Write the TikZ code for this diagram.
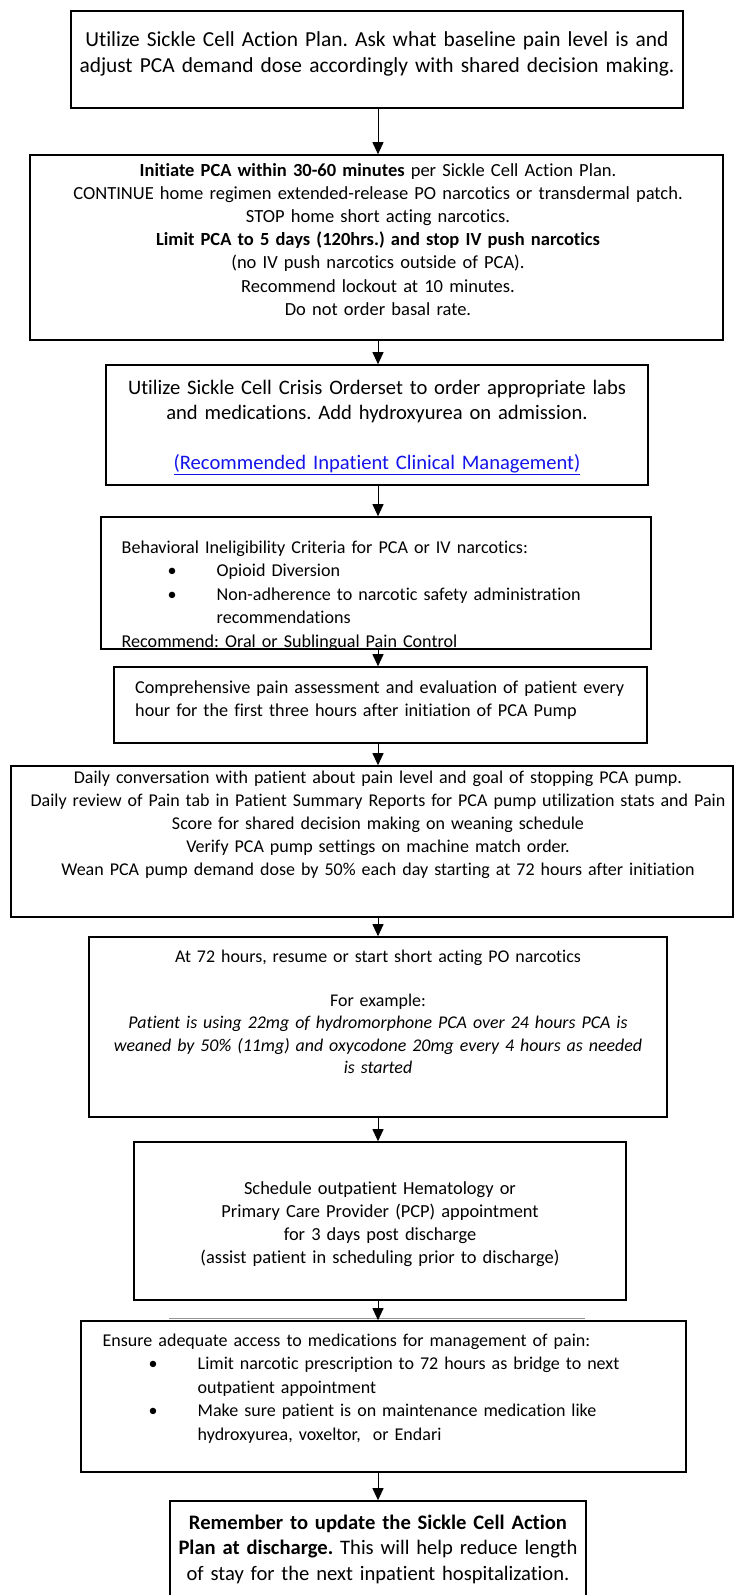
\documentclass[tikz,border=0pt]{standalone}
\usepackage{fontspec}
\setmainfont{Carlito}[Ligatures=NoCommon]
\usetikzlibrary{arrows.meta}
\definecolor{linkblue}{RGB}{20,20,235}
\definecolor{seamgray}{RGB}{150,150,150}
\newcommand\fs[2]{\fontsize{#1pt}{#2pt}\selectfont}
\newcommand\bulA{\makebox[95pt][l]{\hspace{46pt}\textbullet}}
\frenchspacing
\begin{document}
\begin{tikzpicture}[x=1pt,y=-1pt,
  box/.style={draw=black,line width=1.6pt,inner sep=0pt},
  flow/.style={line width=0.9pt,-{Triangle[width=11pt,length=12pt]}},
  ctext/.style={inner sep=0pt,anchor=base,align=center,text width=#1pt},
  ltext/.style={inner sep=0pt,anchor=base west,align=left,text width=#1pt}]
\clip (0,0) rectangle (735,1595);
\fill[white] (0,0) rectangle (735,1595);

% boxes
\node[box,minimum width=612pt,minimum height=97pt]  (b1)  at (377,59.5) {};
\node[box,minimum width=693pt,minimum height=185pt] (b2)  at (376.5,247.5) {};
\node[box,minimum width=542pt,minimum height=120pt] (b3)  at (377,425) {};
\node[box,minimum width=550pt,minimum height=132pt] (b4)  at (376,583) {};
\node[box,minimum width=533pt,minimum height=76pt]  (b5)  at (380.5,705) {};
\node[box,minimum width=722pt,minimum height=151pt] (b6)  at (372,841.5) {};
\node[box,minimum width=578pt,minimum height=180pt] (b7)  at (378,1027) {};
\node[box,minimum width=492pt,minimum height=158pt] (b8)  at (380,1221) {};
\node[box,minimum width=605pt,minimum height=151pt] (b9)  at (383.5,1396.5) {};
\node[box,minimum width=416pt,minimum height=199pt] (b10) at (378,1600.5) {};

% thin seam above the ninth box
\draw[seamgray,line width=0.8pt] (169,1318.5) -- (585,1318.5);

% connectors
\coordinate (ax) at (378,0);
\draw[flow] (b1.south -| ax) -- (b2.north -| ax);
\draw[flow] (b2.south -| ax) -- (b3.north -| ax);
\draw[flow] (b3.south -| ax) -- (b4.north -| ax);
\draw[flow] (b4.south -| ax) -- (b5.north -| ax);
\draw[flow] (b5.south -| ax) -- (b6.north -| ax);
\draw[flow] (b6.south -| ax) -- (b7.north -| ax);
\draw[flow] (b7.south -| ax) -- (b8.north -| ax);
\draw[flow] (b8.south -| ax) -- (b9.north -| ax);
\draw[flow] (b9.south -| ax) -- (b10.north -| ax);

% texts
\node[ctext=700,font=\fs{21.4}{26}] (t1) at (377,47)
  {Utilize Sickle Cell Action Plan. Ask what baseline pain level is and\\
   adjust PCA demand dose accordingly with shared decision making.};

\node[ctext=720,font=\fs{18.5}{23.2}] (t2) at (378,176)
  {\textbf{Initiate PCA within 30-60 minutes} per Sickle Cell Action Plan.\\
   CONTINUE home regimen extended-release PO narcotics or transdermal patch.\\
   STOP home short acting narcotics.\\
   \textbf{Limit PCA to 5 days (120hrs.) and stop IV push narcotics}\\
   (no IV push narcotics outside of PCA).\\
   Recommend lockout at 10 minutes.\\
   Do not order basal rate.};

\node[ctext=700,font=\fs{20.6}{25}] (t3) at (377,394)
  {Utilize Sickle Cell Crisis Orderset to order appropriate labs\\
   and medications. Add hydroxyurea on admission.\\[25pt]
   \textcolor{linkblue}{\underline{(Recommended Inpatient Clinical Management)}}};

\begin{scope}
  \clip (b4.north west) rectangle (b4.south east);
  \node[ltext=540,font=\fs{18.1}{23.5}] (t4) at (121.5,553)
    {Behavioral Ineligibility Criteria for PCA or IV narcotics:\\
     \bulA Opioid Diversion\\
     \bulA Non-adherence to narcotic safety administration\\
     \hspace*{95pt}recommendations\\
     Recommend: Oral or Sublingual Pain Control};
\end{scope}

\node[ltext=520,font=\fs{18.2}{23.5}] (t5) at (135,693)
  {Comprehensive pain assessment and evaluation of patient every\\
   hour for the first three hours after initiation of PCA Pump};

\node[ctext=730,font=\fs{18}{23}] (t6) at (378,783)
  {Daily conversation with patient about pain level and goal of stopping PCA pump.\\
   Daily review of Pain tab in Patient Summary Reports for PCA pump utilization stats and Pain\\
   Score for shared decision making on weaning schedule\\
   Verify PCA pump settings on machine match order.\\
   Wean PCA pump demand dose by 50\% each day starting at 72 hours after initiation};

\node[ctext=700,font=\fs{17.9}{22.5}] (t7) at (378,962)
  {At 72 hours, resume or start short acting PO narcotics\\[21.5pt]
   For example:\\
   \textit{Patient is using 22mg of hydromorphone PCA over 24 hours PCA is}\\
   \textit{weaned by 50\% (11mg) and oxycodone 20mg every 4 hours as needed}\\
   \textit{is started}};

\node[ctext=700,font=\fs{18.4}{23}] (t8) at (380,1194)
  {Schedule outpatient Hematology or\\
   Primary Care Provider (PCP) appointment\\
   for 3 days post discharge\\
   (assist patient in scheduling prior to discharge)};

\node[ltext=600,font=\fs{18}{23.5}] (t9) at (102.5,1346)
  {Ensure adequate access to medications for management of pain:\\
   \bulA Limit narcotic prescription to 72 hours as bridge to next\\
   \hspace*{95pt}outpatient appointment\\
   \bulA Make sure patient is on maintenance medication like\\
   \hspace*{95pt}hydroxyurea, voxeltor,\ \ or Endari};

\node[ctext=600,font=\fs{20.6}{25.5}] (t10) at (378,1529)
  {\textbf{Remember to update the Sickle Cell Action}\\
   \textbf{Plan at discharge.} This will help reduce length\\
   of stay for the next inpatient hospitalization.};
\end{tikzpicture}
\end{document}
